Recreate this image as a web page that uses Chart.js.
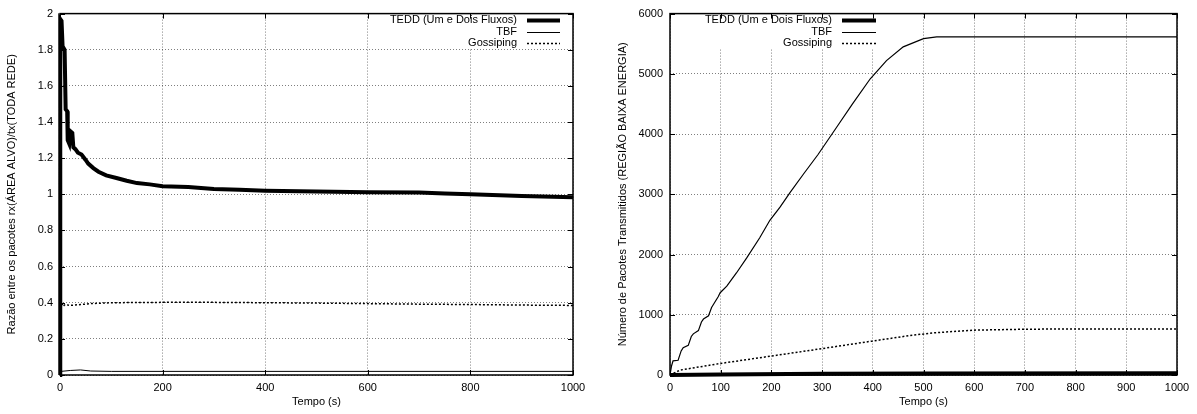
<!DOCTYPE html>
<html>
<head>
<meta charset="utf-8">
<script src="https://cdn.jsdelivr.net/npm/chart.js@4.4.0/dist/chart.umd.min.js"></script>
<style>
body{margin:0;background:#fff;}
#wrap{position:relative;width:1197px;height:414px;}
canvas{position:absolute;top:0;}
</style>
</head>
<body>
<div id="wrap">
<canvas id="esq" width="599" height="414" style="left:0"></canvas>
<canvas id="dir" width="598" height="414" style="left:599px"></canvas>
</div>
<script>
var nomes = ['TEDD (Um e Dois Fluxos)', 'TBF', 'Gossiping'];

// grafico da esquerda: razao rx/tx
var esqTeddT = [0, 0.5, 3, 5, 9, 11, 14, 15, 18, 20, 24, 26, 30, 35, 42, 50, 55, 65, 75, 90, 110, 130, 150, 175, 200, 250, 300, 350, 400, 500, 600, 700, 750, 800, 900, 1000];
var esqTeddV = [0, 1.97, 1.96, 1.82, 1.80, 1.47, 1.46, 1.30, 1.28, 1.35, 1.34, 1.26, 1.25, 1.23, 1.22, 1.19, 1.17, 1.145, 1.125, 1.105, 1.09, 1.075, 1.062, 1.055, 1.045, 1.04, 1.03, 1.025, 1.02, 1.015, 1.012, 1.01, 1.005, 1.0, 0.99, 0.984];
var esqTbfT = [0, 2, 20, 40, 60, 100, 1000];
var esqTbfV = [0, 0.02, 0.025, 0.028, 0.022, 0.02, 0.02];
var esqGossT = [0, 3, 6, 10, 20, 40, 60, 100, 200, 300, 400, 500, 600, 700, 800, 900, 1000];
var esqGossV = [0.36, 0.40, 0.38, 0.39, 0.385, 0.39, 0.395, 0.40, 0.402, 0.402, 0.40, 0.398, 0.395, 0.392, 0.39, 0.387, 0.385];
var esqXTicks = [0, 200, 400, 600, 800, 1000];
var esqXLabels = ['0', '200', '400', '600', '800', '1000'];
var esqYTicks = [0, 0.2, 0.4, 0.6, 0.8, 1, 1.2, 1.4, 1.6, 1.8, 2];
var esqYLabels = ['0', '0.2', '0.4', '0.6', '0.8', '1', '1.2', '1.4', '1.6', '1.8', '2'];

// grafico da direita: pacotes transmitidos
var dirTeddT = [0, 100, 300, 500, 1000];
var dirTeddV = [0, 10, 20, 25, 30];
var dirTbfT = [0, 3, 6, 16, 22, 26, 36, 42, 46, 56, 62, 66, 76, 82, 85, 95, 99, 112, 131, 151, 177, 197, 217, 237, 263, 292, 330, 360, 395, 427, 460, 500, 526, 600, 1000];
var dirTbfV = [0, 150, 235, 245, 400, 454, 492, 640, 683, 737, 880, 929, 983, 1120, 1163, 1300, 1366, 1475, 1694, 1940, 2279, 2568, 2787, 3033, 3333, 3661, 4130, 4500, 4918, 5219, 5448, 5585, 5612, 5615, 5615];
var dirGossT = [0, 20, 99, 197, 299, 398, 473, 520, 600, 700, 800, 1000];
var dirGossV = [0, 82, 191, 311, 437, 562, 655, 700, 745, 760, 765, 765];
var dirXTicks = [0, 100, 200, 300, 400, 500, 600, 700, 800, 900, 1000];
var dirXLabels = ['0', '100', '200', '300', '400', '500', '600', '700', '800', '900', '1000'];
var dirYTicks = [0, 1000, 2000, 3000, 4000, 5000, 6000];
var dirYLabels = ['0', '1000', '2000', '3000', '4000', '5000', '6000'];

var fonte = {family: '"Liberation Sans", Arial, sans-serif', size: 11};

function pontos(ts, vs) {
    var p = [];
    for (var i = 0; i < ts.length; i++) {
        p.push({x: ts[i], y: vs[i]});
    }
    return p;
}

function linha(ctx, x1, y1, x2, y2) {
    ctx.beginPath();
    ctx.moveTo(x1, y1);
    ctx.lineTo(x2, y2);
    ctx.stroke();
}

// caixa, marcas para dentro e legenda no estilo gnuplot
var gnuplotBox = {
    id: 'gnuplotBox',
    beforeDatasetsDraw: function(chart, args, opts) {
        var ctx = chart.ctx, a = chart.chartArea;
        ctx.save();
        ctx.fillStyle = '#fff';
        ctx.fillRect(opts.boxLeft, a.top, opts.boxRight - opts.boxLeft, opts.boxBottom - a.top);
        ctx.restore();
    },
    afterDraw: function(chart, args, opts) {
        var ctx = chart.ctx, a = chart.chartArea;
        var sx = chart.scales.x, sy = chart.scales.y;
        ctx.save();
        ctx.strokeStyle = '#000';
        ctx.lineWidth = 1;
        sx.ticks.forEach(function(t) {
            var px = Math.round(sx.getPixelForValue(t.value)) + 0.5;
            linha(ctx, px, a.bottom, px, a.bottom - 5);
            linha(ctx, px, a.top, px, a.top + 5);
        });
        sy.ticks.forEach(function(t) {
            var py = Math.round(sy.getPixelForValue(t.value)) + 0.5;
            linha(ctx, a.left, py, a.left + 5, py);
            linha(ctx, a.right, py, a.right - 5, py);
        });
        ctx.lineWidth = 1.5;
        ctx.strokeRect(a.left, a.top, a.right - a.left, a.bottom - a.top);

        ctx.font = '11px "Liberation Sans", Arial, sans-serif';
        ctx.textAlign = 'right';
        ctx.textBaseline = 'middle';
        ctx.fillStyle = '#000';
        chart.data.datasets.forEach(function(ds, i) {
            var y = opts.rows[i];
            ctx.fillText(ds.label, opts.textRight, y);
            ctx.lineWidth = ds.borderWidth;
            ctx.setLineDash(ds.borderDash || []);
            linha(ctx, opts.sampleFrom, y + 0.5, opts.sampleTo, y + 0.5);
        });
        ctx.restore();
    }
};

function eixo(ticks, labels, titulo, tamanho, horizontal) {
    var cfg = {
        type: 'linear',
        min: ticks[0],
        max: ticks[ticks.length - 1],
        afterBuildTicks: function(s) {
            s.ticks = ticks.map(function(v) { return {value: v}; });
        },
        afterFit: function(s) {
            if (horizontal) s.height = tamanho; else s.width = tamanho;
        },
        grid: {color: 'rgba(0,0,0,0.5)', lineWidth: 1, drawTicks: false},
        border: {display: false, dash: [1, 2]},
        ticks: {
            color: '#000', font: fonte, padding: horizontal ? 6 : 7,
            autoSkip: false, maxRotation: 0,
            callback: function(v, i) { return labels[i]; }
        },
        title: {display: true, text: titulo, color: '#000', font: fonte,
            padding: horizontal ? {top: 0, bottom: 5} : {top: 4, bottom: 4}}
    };
    return cfg;
}

function conjuntos(teddT, teddV, tbfT, tbfV, gossT, gossV, tbfLargura) {
    return [
        {label: nomes[0], data: pontos(teddT, teddV), borderColor: '#000', borderWidth: 4, pointRadius: 0, tension: 0, clip: false},
        {label: nomes[1], data: pontos(tbfT, tbfV), borderColor: '#000', borderWidth: tbfLargura, pointRadius: 0, tension: 0},
        {label: nomes[2], data: pontos(gossT, gossV), borderColor: '#000', borderWidth: 1.5, borderDash: [2, 2], pointRadius: 0, tension: 0}
    ];
}

function grafico(id, dados, escalas, padding, legenda) {
    return new Chart(document.getElementById(id).getContext('2d'), {
        type: 'line',
        data: {datasets: dados},
        options: {
            responsive: false,
            animation: false,
            devicePixelRatio: 1,
            layout: {padding: padding},
            plugins: {legend: {display: false}, tooltip: {enabled: false}, gnuplotBox: legenda},
            scales: escalas
        },
        plugins: [gnuplotBox]
    });
}

grafico('esq',
    conjuntos(esqTeddT, esqTeddV, esqTbfT, esqTbfV, esqGossT, esqGossV, 1),
    {
        x: eixo(esqXTicks, esqXLabels, 'Tempo (s)', 39, true),
        y: eixo(esqYTicks, esqYLabels, 'Razão entre os pacotes rx(ÁREA ALVO)/tx(TODA REDE)', 59, false)
    },
    {left: 1, right: 26, top: 9, bottom: 0},
    {boxLeft: 385, boxRight: 573, boxBottom: 48, textRight: 517, sampleFrom: 527, sampleTo: 560, rows: [20, 32, 43]}
);

grafico('dir',
    conjuntos(dirTeddT, dirTeddV, dirTbfT, dirTbfV, dirGossT, dirGossV, 1.2),
    {
        x: eixo(dirXTicks, dirXLabels, 'Tempo (s)', 39, true),
        y: eixo(dirYTicks, dirYLabels, 'Número de Pacotes Transmitidos (REGIÃO BAIXA ENERGIA)', 58, false)
    },
    {left: 13, right: 20, top: 9, bottom: 0},
    {boxLeft: 99, boxRight: 296, boxBottom: 48, textRight: 233, sampleFrom: 243, sampleTo: 277, rows: [20, 32, 43]}
);
</script>
</body>
</html>
